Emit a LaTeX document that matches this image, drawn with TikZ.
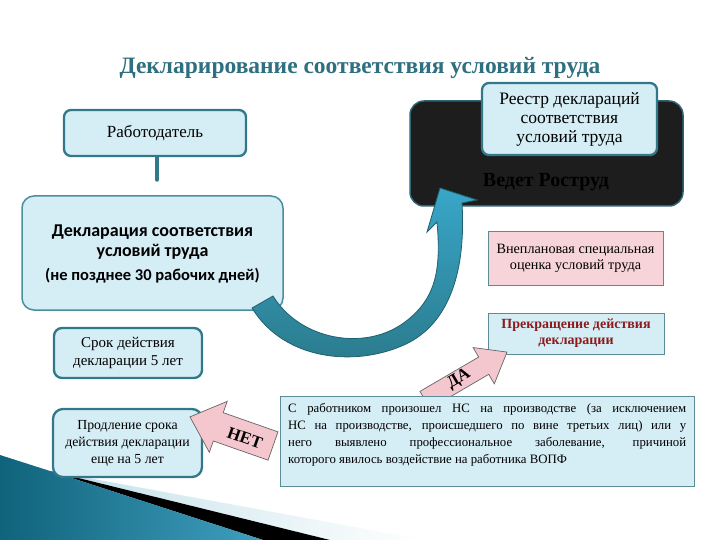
\documentclass[tikz,border=0pt]{standalone}
\usepackage{fontspec}
\setmainfont{Liberation Serif}
\newfontfamily\calibfont{Carlito}
\definecolor{tealb}{HTML}{31788A}
\definecolor{declb}{HTML}{4A8E9E}
\definecolor{boxfill}{HTML}{D5EDF5}
\definecolor{titlec}{HTML}{2E6F80}
\definecolor{pinkf}{HTML}{F7D4D9}
\definecolor{arrowpink}{HTML}{F3C7CD}
\definecolor{darkred}{HTML}{8E1B1B}
\definecolor{blackfill}{HTML}{1D1D1D}
\definecolor{blackborder}{HTML}{2D6575}
\definecolor{grayb}{HTML}{5E8C96}
\definecolor{arrlight}{HTML}{39A6C8}
\definecolor{arrdark}{HTML}{2A7A8B}
\definecolor{arrborder}{HTML}{21606F}
\definecolor{decodark}{HTML}{10637B}
\definecolor{decolight}{HTML}{3F9FBF}
\definecolor{decoband}{HTML}{C3E1EA}
\begin{document}
\begin{tikzpicture}[x=1pt,y=-1pt,
  tealbox/.style={draw=tealb, line width=2.3pt, fill=boxfill, rounded corners=7pt, align=center, inner sep=0pt},
  flatbox/.style={draw=grayb, line width=0.9pt, align=center, inner sep=0pt},
  pinkarrow/.style={draw=gray!80!black, line width=0.7pt, fill=arrowpink},
  arrowtext/.style={font=\fontsize{17}{17}\selectfont\bfseries, inner sep=0pt},
  connector/.style={draw=tealb, line width=3.5pt, line cap=round}
]
\useasboundingbox (0,0) rectangle (720,540);
\fill[white] (0,0) rectangle (720,540);

% bottom-left decoration
\shade[left color=decoband, right color=white] (50,471) -- (425,540) -- (330,540) -- cycle;
\fill[black] (50,471) -- (330,540) -- (263,540) -- cycle;
\shade[left color=decodark, right color=decolight] (0,455) -- (50,471) -- (263,540) -- (0,540) -- cycle;

% title
\node[font=\fontsize{23.5}{28}\selectfont\bfseries, text=titlec] (title) at (360,68) {Декларирование соответствия условий труда};

% employer
\node[tealbox, minimum width=182pt, minimum height=46pt, font=\fontsize{17}{20}\selectfont] (rab) at (155,133) {Работодатель};
\coordinate (rabend) at (157,180);
\draw[connector] (rab.south -| rabend) -- (rabend);

% black Rostrud box
\node[draw=blackborder, line width=1.5pt, fill=blackfill, rounded corners=14pt, minimum width=273pt, minimum height=105pt, inner sep=0pt] (ros) at (546.5,153.5) {};
\node[font=\fontsize{20}{22}\selectfont\bfseries, text=black] (rostext) at (546,182) {Ведет Роструд};
\node[tealbox, minimum width=175pt, minimum height=72pt, font=\fontsize{17.5}{19}\selectfont] (reestr) at (569.5,119) {Реестр деклараций\\соответствия\\условий труда};

% declaration box
\node[draw=declb, line width=1.5pt, fill=boxfill, rounded corners=12pt, minimum width=261pt, minimum height=114pt, inner sep=0pt] (decl) at (152.5,253) {};
\node[font=\calibfont\bfseries\fontsize{18}{20}\selectfont, align=center, inner sep=0pt] (decltitle) at (152.5,242) {Декларация соответствия\\условий труда};
\node[font=\calibfont\bfseries\fontsize{16.5}{18}\selectfont, inner sep=0pt] (decldays) at (152.5,276) {(не позднее 30 рабочих дней)};

% curved arrow
\shade[top color=arrlight, bottom color=arrdark, draw=arrborder, line width=0.8pt]
  (252,308) -- (273,296)
  .. controls (300,340) and (365,352) .. (405,322)
  .. controls (437,298) and (441,268) .. (437,222)
  -- (427,232) -- (440,188) -- (477,200) -- (462,203)
  .. controls (466,270) and (450,320) .. (410,342)
  .. controls (360,368) and (285,362) .. (252,308) -- cycle;

% right-side boxes
\node[flatbox, fill=pinkf, minimum width=175pt, minimum height=54pt, font=\fontsize{14.2}{16}\selectfont] (vnepl) at (575.5,258) {Внеплановая специальная\\оценка условий труда};
\node[flatbox, fill=boxfill, minimum width=176pt, minimum height=41pt, font=\fontsize{14}{16}\selectfont\bfseries, text=darkred] (prekr) at (576,333.5) {Прекращение действия\\декларации};

% left boxes
\node[tealbox, rounded corners=8pt, minimum width=148pt, minimum height=50pt, font=\fontsize{15}{18}\selectfont] (srok) at (128,353) {Срок действия\\декларации 5 лет};
\node[tealbox, rounded corners=10pt, minimum width=149pt, minimum height=68pt, font=\fontsize{13.8}{17}\selectfont] (prodl) at (127.5,443) {Продление срока\\действия декларации\\еще на 5 лет};

% YES arrow
\begin{scope}[shift={(425,400)}, rotate=30.3]
  \draw[pinkarrow] (0,-10) -- (68,-10) -- (68,-21) -- (95,0) -- (68,21) -- (68,10) -- (0,10) -- cycle;
\end{scope}
\node[arrowtext, rotate=30.3] (da) at (459,379) {ДА};

% NO arrow
\begin{scope}[shift={(273,446)}, rotate=160.7]
  \draw[pinkarrow] (0,-15) -- (58,-15) -- (58,-27) -- (88,0) -- (58,27) -- (58,15) -- (0,15) -- cycle;
\end{scope}
\node[arrowtext, rotate=-19.3] (net) at (245,438) {НЕТ};

% condition box
\node[flatbox, fill=boxfill, minimum width=414pt, minimum height=90pt, anchor=north west] (cond) at (280,396) {};
\node[text width=398pt, align=justify, anchor=north west, inner sep=0pt, font=\fontsize{12.8}{17}\selectfont] (condtext) at (288,403) {С работником произошел НС на производстве (за исключением\linebreak НС на производстве, происшедшего по вине третьих лиц) или у\linebreak него выявлено профессиональное заболевание, причиной\linebreak которого явилось воздействие на работника ВОПФ};
\end{tikzpicture}
\end{document}
